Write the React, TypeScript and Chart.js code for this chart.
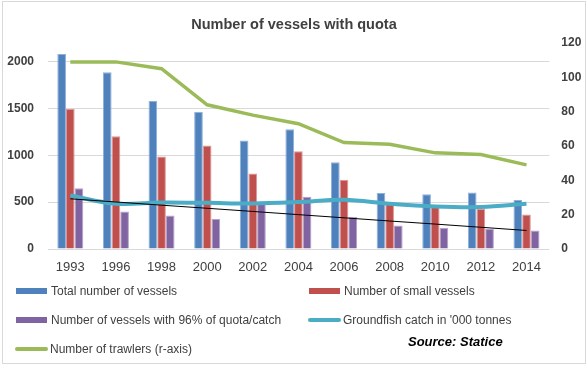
import React, { useEffect, useRef } from "react";
import { Chart, registerables } from "chart.js";

Chart.register(...registerables);

const years = ["1993", "1996", "1998", "2000", "2002", "2004", "2006", "2008", "2010", "2012", "2014"];
const totalVessels = [2082, 1887, 1581, 1467, 1158, 1280, 927, 597, 586, 604, 522];
const smallVessels = [1496, 1205, 987, 1105, 806, 1045, 739, 501, 448, 426, 369];
const quotaVessels = [650, 401, 358, 320, 480, 558, 341, 252, 227, 216, 198];
const groundfishCatch = [571, 483, 497, 493, 486, 501, 525, 483, 454, 448, 483];
const trawlers = [109, 109, 105, 84, 78, 73, 62, 61, 56, 55, 49];
const trendLine = [536, 502, 468, 435, 401, 367, 333, 299, 266, 232, 198];
const leftTicks = [0, 500, 1000, 1500, 2000];
const rightTicks = [0, 20, 40, 60, 80, 100, 120];

const FONT = "'Liberation Sans', Arial, sans-serif";
const TEXT = "#404040";

const legendItems = [
  { label: "Total number of vessels", color: "#4F81BD", kind: "box", x: 16, y: 291 },
  { label: "Number of small vessels", color: "#C0504D", kind: "box", x: 309, y: 291 },
  { label: "Number of vessels with 96% of quota/catch", color: "#8064A2", kind: "box", x: 16, y: 319.5 },
  { label: "Groundfish catch in '000 tonnes", color: "#4BACC6", kind: "line", x: 308, y: 319.5 },
  { label: "Number of trawlers (r-axis)", color: "#9BBB59", kind: "line", x: 15, y: 349 },
];

export default function App() {
  const ref = useRef<HTMLCanvasElement | null>(null);

  useEffect(() => {
    if (!ref.current) return;
    const chart = new Chart(ref.current, {
      type: "bar",
      data: {
        labels: years,
        datasets: [
          {
            type: "line",
            label: "Trend",
            data: trendLine,
            borderColor: "#000000",
            borderWidth: 1,
            pointRadius: 0,
            yAxisID: "y",
            order: 0,
          },
          {
            type: "line",
            label: "Groundfish catch in '000 tonnes",
            data: groundfishCatch,
            borderColor: "#4BACC6",
            borderWidth: 4,
            pointRadius: 0,
            tension: 0.35,
            yAxisID: "y",
            order: 1,
          },
          {
            type: "line",
            label: "Number of trawlers (r-axis)",
            data: trawlers,
            borderColor: "#9BBB59",
            borderWidth: 3.5,
            pointRadius: 0,
            yAxisID: "y1",
            order: 2,
          },
          {
            type: "bar",
            label: "Total number of vessels",
            data: totalVessels,
            backgroundColor: "#4F81BD",
            borderColor: "#8fb0d8",
            borderWidth: 1,
            yAxisID: "y",
            order: 3,
          },
          {
            type: "bar",
            label: "Number of small vessels",
            data: smallVessels,
            backgroundColor: "#C0504D",
            borderColor: "#dc9896",
            borderWidth: 1,
            yAxisID: "y",
            order: 3,
          },
          {
            type: "bar",
            label: "Number of vessels with 96% of quota/catch",
            data: quotaVessels,
            backgroundColor: "#8064A2",
            borderColor: "#b3a2c9",
            borderWidth: 1,
            yAxisID: "y",
            order: 3,
          },
        ],
      },
      options: {
        responsive: false,
        animation: false,
        devicePixelRatio: 1,
        datasets: { bar: { categoryPercentage: 0.57, barPercentage: 1 } },
        layout: { padding: { left: 0, right: 0, top: 0, bottom: 86 } },
        plugins: {
          legend: { display: false },
          tooltip: { enabled: false },
          title: {
            display: true,
            text: "Number of vessels with quota",
            color: TEXT,
            font: { family: FONT, size: 14.5, weight: "bold" },
            padding: { top: 16.5, bottom: 9.1 },
          },
        },
        scales: {
          x: {
            grid: { display: false, drawTicks: false },
            border: { display: false },
            ticks: { color: TEXT, font: { family: FONT, size: 13 }, padding: 11, maxRotation: 0 },
            afterFit: (s: any) => { s.height = 30; },
          },
          y: {
            position: "left",
            min: 0,
            max: 2200,
            grid: { color: "#d9d9d9", drawTicks: false },
            border: { display: false },
            ticks: {
              color: TEXT,
              font: { family: FONT, size: 12, weight: "bold" },
              padding: 13.5,
              callback: (v: any) => String(v),
            },
            afterBuildTicks: (s: any) => { s.ticks = leftTicks.map((v) => ({ value: v })); },
            afterFit: (s: any) => { s.width = 47.5; },
          },
          y1: {
            position: "right",
            min: 0,
            max: 120,
            grid: { display: false, drawTicks: false },
            border: { display: false },
            ticks: {
              color: TEXT,
              font: { family: FONT, size: 12, weight: "bold" },
              padding: 12,
              callback: (v: any) => String(v),
            },
            afterBuildTicks: (s: any) => { s.ticks = rightTicks.map((v) => ({ value: v })); },
            afterFit: (s: any) => { s.width = 38.7; },
          },
        },
      },
    });
    return () => chart.destroy();
  }, []);

  return (
    <div style={{ position: "absolute", left: 0, top: 0, width: 588, height: 365, background: "#fff" }}>
      <div
        style={{
          position: "absolute",
          left: 2,
          top: 1,
          width: 584,
          height: 363,
          boxSizing: "border-box",
          border: "1px solid #d9d9d9",
        }}
      />
      <canvas ref={ref} width={588} height={365} style={{ position: "absolute", left: 0, top: 0, width: 588, height: 365 }} />
      {legendItems.map((it) => (
        <React.Fragment key={it.label}>
          {it.kind === "box" ? (
            <div
              style={{
                position: "absolute",
                left: it.x,
                top: it.y - 3,
                width: 31,
                height: 6,
                background: it.color,
              }}
            />
          ) : (
            <div
              style={{
                position: "absolute",
                left: it.x,
                top: it.y - 2,
                width: 33,
                height: 4,
                borderRadius: 2,
                background: it.color,
              }}
            />
          )}
          <div
            style={{
              position: "absolute",
              left: it.x + 35,
              top: it.y - 7,
              height: 14,
              lineHeight: "14px",
              fontFamily: FONT,
              fontSize: 12,
              color: TEXT,
              whiteSpace: "nowrap",
            }}
          >
            {it.label}
          </div>
        </React.Fragment>
      ))}
      <div
        style={{
          position: "absolute",
          left: 408,
          top: 334,
          height: 16,
          lineHeight: "16px",
          fontFamily: FONT,
          fontSize: 13,
          fontWeight: "bold",
          fontStyle: "italic",
          color: "#000",
          whiteSpace: "nowrap",
        }}
      >
        Source: Statice
      </div>
    </div>
  );
}
